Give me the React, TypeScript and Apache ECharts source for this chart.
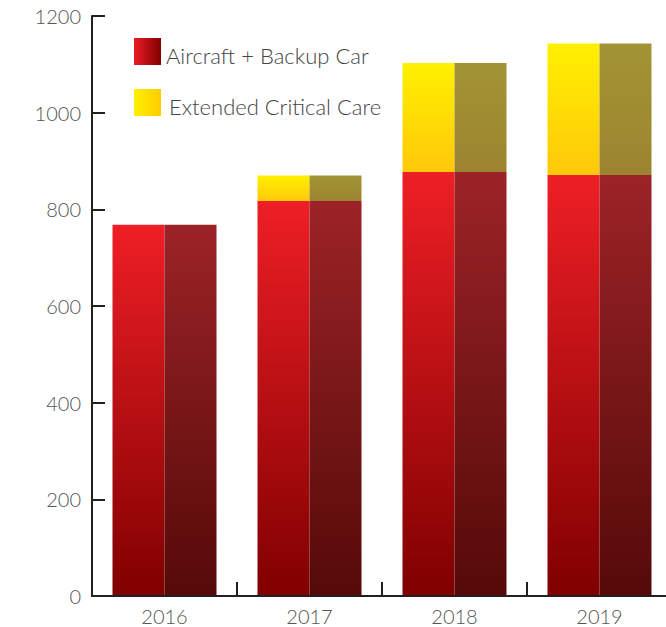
import React, { useEffect, useRef } from "react";
import * as echarts from "echarts";

const years = ["2016", "2017", "2018", "2019"];
const aircraftBackupCar = [768, 817, 877, 871];
const extendedCriticalCare = [0, 53, 226, 272];
const yTicks = { min: 0, max: 1200, interval: 200 };

const seriesNames = ["Aircraft + Backup Car", "Extended Critical Care"];

export default function App() {
  const ref = useRef<HTMLDivElement>(null);
  useEffect(() => {
    if (!ref.current) return;
    const chart = echarts.init(ref.current, undefined, { renderer: "svg" });
    const vg = (a: string, b: string) =>
      new echarts.graphic.LinearGradient(0, 0, 0, 1, [
        { offset: 0, color: a },
        { offset: 1, color: b },
      ]);
    const hg = (a: string, b: string) =>
      new echarts.graphic.LinearGradient(0, 0, 1, 0, [
        { offset: 0, color: a },
        { offset: 1, color: b },
      ]);
    const font = "Lato, 'Open Sans', sans-serif";
    const axisCol = "#231F20";
    const legendText = {
      color: "#444",
      fontSize: 22,
      fontFamily: font,
      fontWeight: 300,
    };
    chart.setOption({
      animation: false,
      grid: { left: 92, top: 16, width: 580, height: 580 },
      legend: {
        orient: "vertical",
        left: 134,
        top: 38,
        padding: 0,
        itemWidth: 27,
        itemHeight: 27,
        itemGap: 23,
        icon: "rect",
        selectedMode: false,
        formatter: (name: string) =>
          name === seriesNames[0] ? "{a|" + name + "}" : "{b|" + name + "}",
        textStyle: {
          ...legendText,
          rich: {
            a: { ...legendText, padding: [7, 0, 0, 0] },
            b: { ...legendText, padding: [7, 0, 0, 3] },
          },
        },
        data: [
          { name: seriesNames[0], itemStyle: { color: hg("#ED1C24", "#800000") } },
          { name: seriesNames[1], itemStyle: { color: hg("#FFF000", "#FFCC00") } },
        ],
      },
      xAxis: {
        type: "category",
        data: years,
        boundaryGap: true,
        axisLine: { show: true, lineStyle: { color: axisCol, width: 2 } },
        axisTick: { show: true, inside: true, length: 14, lineStyle: { color: axisCol, width: 2 } },
        axisLabel: { color: "#555", fontSize: 20, fontFamily: font, fontWeight: 300, margin: 10 },
        z: 10,
      },
      yAxis: {
        type: "value",
        min: yTicks.min,
        max: yTicks.max,
        interval: yTicks.interval,
        splitLine: { show: false },
        axisLine: { show: true, lineStyle: { color: axisCol, width: 2 } },
        axisTick: { show: true, inside: true, length: 13, lineStyle: { color: axisCol, width: 2 } },
        axisLabel: {
          color: "#555",
          fontSize: 20,
          fontFamily: font,
          fontWeight: 300,
          margin: 11,
          formatter: (v: number) => String(v),
        },
      },
      series: [
        {
          name: seriesNames[0],
          type: "bar",
          stack: "L",
          barWidth: 52,
          barGap: 0,
          data: aircraftBackupCar,
          itemStyle: { color: vg("#EE1F26", "#800000") },
        },
        {
          name: seriesNames[1],
          type: "bar",
          stack: "L",
          barWidth: 52,
          data: extendedCriticalCare,
          itemStyle: { color: vg("#FFF000", "#FFC80A") },
        },
        {
          name: "r1",
          type: "bar",
          stack: "R",
          barWidth: 52,
          barGap: 0,
          data: aircraftBackupCar,
          itemStyle: { color: vg("#9C2327", "#550A08") },
        },
        {
          name: "r2",
          type: "bar",
          stack: "R",
          barWidth: 52,
          data: extendedCriticalCare,
          itemStyle: { color: vg("#A29434", "#9D8430") },
        },
      ],
    });
    return () => chart.dispose();
  }, []);
  return (
    <div
      style={{
        position: "fixed",
        left: 0,
        top: 0,
        width: 666,
        height: 627,
        overflow: "hidden",
        background: "#fff",
      }}
    >
      <div ref={ref} style={{ width: 700, height: 627 }} />
    </div>
  );
}
